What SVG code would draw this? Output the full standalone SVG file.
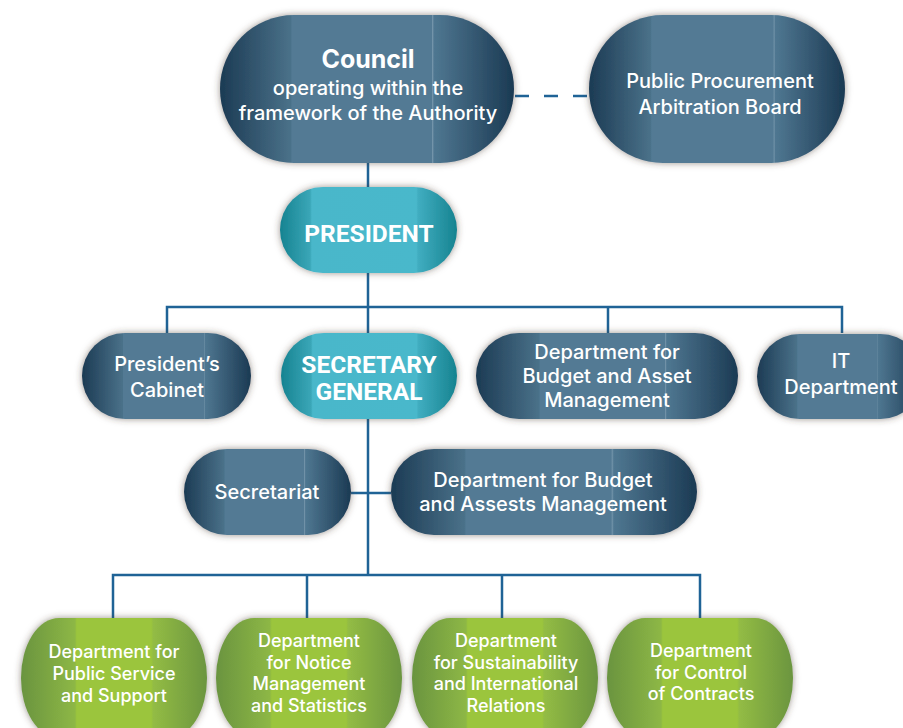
<svg xmlns="http://www.w3.org/2000/svg" width="903" height="728" viewBox="0 0 903 728">
<defs>
<linearGradient id="gBlue" x1="0" y1="0" x2="1" y2="0">
<stop offset="0" stop-color="#1c3b54"/>
<stop offset="0.24" stop-color="#4a7189"/>
<stop offset="0.245" stop-color="#527a94"/>
<stop offset="0.72" stop-color="#527a94"/>
<stop offset="0.722" stop-color="#7898ad"/>
<stop offset="0.728" stop-color="#4f7791"/>
<stop offset="1" stop-color="#1b3a53"/>
</linearGradient>
<linearGradient id="gTeal" x1="0" y1="0" x2="1" y2="0">
<stop offset="0" stop-color="#168391"/>
<stop offset="0.17" stop-color="#3aa6b7"/>
<stop offset="0.18" stop-color="#48b7ca"/>
<stop offset="0.77" stop-color="#4ab8cb"/>
<stop offset="0.78" stop-color="#40adc0"/>
<stop offset="1" stop-color="#168390"/>
</linearGradient>
<linearGradient id="gGreen" x1="0" y1="0" x2="1" y2="0">
<stop offset="0" stop-color="#6a9440"/>
<stop offset="0.29" stop-color="#8db745"/>
<stop offset="0.30" stop-color="#9bc53c"/>
<stop offset="0.70" stop-color="#9bc53c"/>
<stop offset="0.71" stop-color="#93bc44"/>
<stop offset="1" stop-color="#6b9540"/>
</linearGradient>
<filter id="sh" x="-10%" y="-20%" width="120%" height="140%">
<feDropShadow dx="0" dy="0" stdDeviation="3.5" flood-color="#4a3a30" flood-opacity="0.55"/>
</filter>
</defs>
<style>
.blue{fill:url(#gBlue);filter:url(#sh)}
.teal{fill:url(#gTeal);filter:url(#sh)}
.green{fill:url(#gGreen);filter:url(#sh)}
text{fill:#ffffff;font-family:Inter,"Noto Sans","Liberation Sans",sans-serif;text-anchor:middle}
.t{font-size:20px;font-weight:500}
.tg{font-size:18px;font-weight:500}
.title{font-size:25px;font-weight:700}
.cap{font-family:Roboto,"Liberation Sans",sans-serif;font-size:24.5px;font-weight:700}
.con{fill:none;stroke:#1f6396;stroke-width:2.5}
</style>
<g id="connectors">
<path class="con" d="M368 163V333M167 333V307H842V333M608 307V333M368 419V575M113 618V575H700V618M307 575V618M502 575V618M351 493H391"/>
<path class="con" d="M515 96H590" stroke-dasharray="14 15" stroke-width="3"/>
</g>
<g id="council">
<rect class="blue" x="220" y="15" width="294" height="148" rx="74"/>
<text class="title" x="368" y="68">Council</text>
<text class="t" x="368" y="95">operating within the</text>
<text class="t" x="368" y="120">framework of the Authority</text>
</g>
<g id="ppab">
<rect class="blue" x="589" y="15" width="256" height="148" rx="74"/>
<text class="t" x="720" y="88">Public Procurement</text>
<text class="t" x="720" y="114">Arbitration Board</text>
</g>
<g id="president">
<rect class="teal" x="280" y="187" width="177" height="86" rx="43"/>
<text class="cap" x="369" y="242">PRESIDENT</text>
</g>
<g id="cabinet">
<rect class="blue" x="82" y="333" width="169" height="86" rx="43"/>
<text class="t" x="167" y="371">President’s</text>
<text class="t" x="167" y="397">Cabinet</text>
</g>
<g id="secretary-general">
<rect class="teal" x="281" y="333" width="176" height="86" rx="43"/>
<text class="cap" x="369" y="373">SECRETARY</text>
<text class="cap" x="369" y="400">GENERAL</text>
</g>
<g id="budget-asset">
<rect class="blue" x="476" y="333" width="262" height="86" rx="43"/>
<text class="t" x="607" y="359">Department for</text>
<text class="t" x="607" y="383">Budget and Asset</text>
<text class="t" x="607" y="407">Management</text>
</g>
<g id="it">
<rect class="blue" x="757" y="334" width="166" height="85" rx="42.5"/>
<text class="t" x="841" y="368">IT</text>
<text class="t" x="841" y="394">Department</text>
</g>
<g id="secretariat">
<rect class="blue" x="184" y="449" width="167" height="86" rx="43"/>
<text class="t" x="267" y="499">Secretariat</text>
</g>
<g id="budget-assests">
<rect class="blue" x="391" y="449" width="306" height="86" rx="43"/>
<text class="t" x="543" y="487">Department for Budget</text>
<text class="t" x="543" y="511">and Assests Management</text>
</g>
<g id="public-service">
<rect class="green" x="21" y="618" width="186" height="120" rx="38" ry="60"/>
<text class="tg" x="114" y="658">Department for</text>
<text class="tg" x="114" y="680">Public Service</text>
<text class="tg" x="114" y="702">and Support</text>
</g>
<g id="notice">
<rect class="green" x="216" y="618" width="186" height="120" rx="38" ry="60"/>
<text class="tg" x="309" y="647">Department</text>
<text class="tg" x="309" y="668.5">for Notice</text>
<text class="tg" x="309" y="690">Management</text>
<text class="tg" x="309" y="712">and Statistics</text>
</g>
<g id="sustainability">
<rect class="green" x="412" y="618" width="186" height="120" rx="38" ry="60"/>
<text class="tg" x="506" y="647">Department</text>
<text class="tg" x="506" y="668.5">for Sustainability</text>
<text class="tg" x="506" y="690">and International</text>
<text class="tg" x="506" y="712">Relations</text>
</g>
<g id="control">
<rect class="green" x="607" y="618" width="186" height="120" rx="38" ry="60"/>
<text class="tg" x="701" y="657">Department</text>
<text class="tg" x="701" y="678.5">for Control</text>
<text class="tg" x="701" y="700">of Contracts</text>
</g>
</svg>
